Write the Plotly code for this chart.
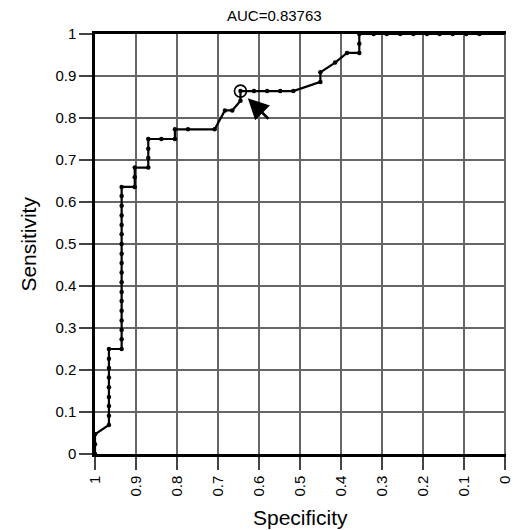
import plotly.graph_objects as go

# ROC points (specificity, sensitivity)
specificity = [1.0, 1.0, 1.0, 0.966,
               0.966, 0.966, 0.966, 0.966, 0.966, 0.966, 0.966, 0.966,
               0.935,
               0.935, 0.935, 0.935, 0.935, 0.935, 0.935, 0.935, 0.935,
               0.935, 0.935, 0.935, 0.935, 0.935, 0.935, 0.935, 0.935, 0.935,
               0.903, 0.903, 0.903,
               0.870, 0.870, 0.870, 0.870,
               0.838, 0.805, 0.805, 0.773, 0.708,
               0.683, 0.665, 0.645, 0.645,
               0.612, 0.580, 0.548, 0.516,
               0.450, 0.450, 0.414, 0.385, 0.355, 0.355, 0.355,
               0.320, 0.288, 0.255, 0.223, 0.190, 0.159, 0.127, 0.094, 0.062]
sensitivity = [0.0, 0.023, 0.047, 0.069,
               0.091, 0.114, 0.136, 0.159, 0.182, 0.205, 0.227, 0.250,
               0.250,
               0.273, 0.295, 0.318, 0.341, 0.364, 0.386, 0.409, 0.432,
               0.455, 0.477, 0.500, 0.523, 0.545, 0.568, 0.591, 0.614, 0.636,
               0.636, 0.659, 0.682,
               0.682, 0.705, 0.727, 0.750,
               0.750, 0.750, 0.773, 0.773, 0.773,
               0.818, 0.818, 0.841, 0.864,
               0.864, 0.864, 0.864, 0.864,
               0.886, 0.909, 0.932, 0.955, 0.955, 0.977, 1.0,
               1.0, 1.0, 1.0, 1.0, 1.0, 1.0, 1.0, 1.0, 1.0]
end_point = (0.0, 1.0)
cutoff_point = (0.645, 0.864)
arrow_tip = (0.627, 0.847)
auc_text = "AUC=0.83763"
x_ticks = [1, 0.9, 0.8, 0.7, 0.6, 0.5, 0.4, 0.3, 0.2, 0.1, 0]
y_ticks = [0, 0.1, 0.2, 0.3, 0.4, 0.5, 0.6, 0.7, 0.8, 0.9, 1]

FONT = "Liberation Sans, Arial, sans-serif"

fig = go.Figure()
fig.add_trace(go.Scatter(
    x=specificity + [end_point[0]], y=sensitivity + [end_point[1]],
    mode="lines", line=dict(color="black", width=2.2),
    cliponaxis=False, hoverinfo="skip", showlegend=False))
fig.add_trace(go.Scatter(
    x=specificity, y=sensitivity, mode="markers",
    marker=dict(color="black", size=4.5),
    cliponaxis=False, showlegend=False))
fig.add_trace(go.Scatter(
    x=[cutoff_point[0]], y=[cutoff_point[1]], mode="markers",
    marker=dict(symbol="circle-open", color="black", size=12,
                line=dict(width=1.6, color="black")),
    cliponaxis=False, showlegend=False))

fig.add_annotation(x=arrow_tip[0], y=arrow_tip[1], xref="x", yref="y",
                   text="", showarrow=True, ax=22, ay=22,
                   arrowhead=2, arrowsize=1.6, arrowwidth=2.6,
                   arrowcolor="black", standoff=0)
fig.add_annotation(x=0.436, y=1.043, xref="paper", yref="paper",
                   text=auc_text, showarrow=False,
                   font=dict(family=FONT, size=15, color="black"),
                   xanchor="center", yanchor="middle")
fig.add_annotation(x=0.5, y=-0.15, xref="paper", yref="paper",
                   text="Specificity", showarrow=False,
                   font=dict(family=FONT, size=21, color="black"),
                   xanchor="center", yanchor="middle")
fig.add_annotation(x=-0.164, y=0.5, xref="paper", yref="paper",
                   text="Sensitivity", showarrow=False, textangle=-90,
                   font=dict(family=FONT, size=21, color="black"),
                   xanchor="center", yanchor="middle")

fig.update_xaxes(
    range=[1, -0.003], tickvals=x_ticks, ticktext=[str(v) for v in x_ticks],
    tickangle=-90, ticks="outside", ticklen=13, tickwidth=1.5,
    tickcolor="#444", showgrid=True, gridcolor="#666666", gridwidth=1.5,
    showline=True, linecolor="black", linewidth=2.5, mirror=True,
    zeroline=False, automargin=False,
    tickfont=dict(family=FONT, size=15, color="black"))
fig.update_yaxes(
    range=[0, 1], tickvals=y_ticks, ticktext=[str(v) for v in y_ticks],
    ticks="outside", ticklen=13, tickwidth=1.5, tickcolor="#444",
    showgrid=True, gridcolor="#666666", gridwidth=1.5,
    showline=True, linecolor="black", linewidth=2.5,
    zeroline=False, automargin=False,
    tickfont=dict(family=FONT, size=15, color="black"))

fig.update_layout(
    width=513, height=530,
    margin=dict(l=95, r=7, t=34, b=76),
    paper_bgcolor="white", plot_bgcolor="white",
    showlegend=False, font=dict(family=FONT))

# remove the page's default body margin so the figure fills the window exactly
fig.write_html("out.html", config={"displayModeBar": False},
               post_script="document.body.style.margin='0';"
                           "document.body.style.overflow='hidden';")
